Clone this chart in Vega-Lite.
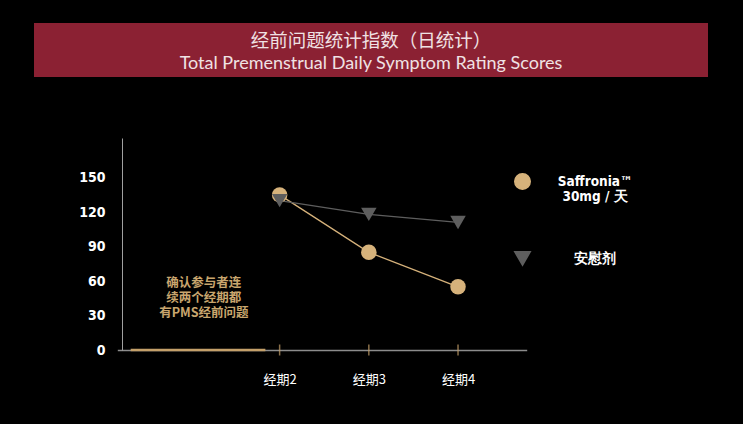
{
  "$schema": "https://vega.github.io/schema/vega-lite/v6.json",
  "background": "black",
  "padding": {"left": 34, "top": 23, "right": 35, "bottom": 38},
  "bounds": "flush",
  "spacing": 61,
  "config": {
    "view": {"stroke": null},
    "axis": {"grid": false}
  },
  "datasets": {
    "titles": [
      {"line": 1, "text": "经前问题统计指数（日统计）"},
      {"line": 2, "text": "Total Premenstrual Daily Symptom Rating Scores"}
    ],
    "scores": [
      {"period": 2, "group": "Saffronia™", "score": 135},
      {"period": 3, "group": "Saffronia™", "score": 85},
      {"period": 4, "group": "Saffronia™", "score": 55},
      {"period": 2, "group": "安慰剂", "score": 130},
      {"period": 3, "group": "安慰剂", "score": 118},
      {"period": 4, "group": "安慰剂", "score": 111}
    ],
    "phases": [
      {"phase": "筛选期", "start": 0.33, "end": 1.84, "note": "确认参与者连\n续两个经期都\n有PMS经前问题"}
    ]
  },
  "vconcat": [
    {
      "width": 674,
      "height": 54,
      "view": {"fill": "#8B2133", "stroke": null},
      "data": {"name": "titles"},
      "encoding": {
        "y": {"field": "line", "type": "ordinal", "axis": null, "scale": {"range": [18, 40.5], "padding": 0}},
        "text": {"field": "text"}
      },
      "layer": [
        {
          "transform": [{"filter": "datum.line == 1"}],
          "mark": {"type": "text", "font": "Noto Sans CJK SC", "fontSize": 18.5, "color": "#F0E2E4"}
        },
        {
          "transform": [{"filter": "datum.line == 2"}],
          "mark": {"type": "text", "font": "Lato", "fontSize": 18, "color": "#F0E2E4"}
        }
      ]
    },
    {
      "width": 674,
      "height": 212,
      "layer": [
        {
          "data": {"name": "phases"},
          "mark": {"type": "rule", "color": "#C4A06A", "strokeWidth": 2.5},
          "encoding": {
            "x": {
              "field": "start",
              "type": "quantitative",
              "scale": {"domain": [0.18, 4.77], "range": [83.3, 492.7], "nice": false, "zero": false},
              "axis": {
                "values": [2, 3, 4],
                "labelExpr": "'经期' + datum.value",
                "title": null,
                "domainColor": "#8C8C8C",
                "domainWidth": 1.5,
                "ticks": false,
                "tickSize": 0,
                "labelPadding": 23,
                "labelColor": "white",
                "labelFont": "Noto Sans CJK SC",
                "labelFontSize": 13
              }
            },
            "x2": {"field": "end"},
            "y": {
              "datum": 0,
              "type": "quantitative",
              "scale": {"domain": [0, 184.5], "nice": false},
              "axis": {
                "values": [0, 30, 60, 90, 120, 150],
                "title": null,
                "offset": -88,
                "domainColor": "#A0A0A0",
                "domainWidth": 1,
                "ticks": false,
                "tickSize": 0,
                "labelPadding": 17,
                "labelColor": "white",
                "labelFont": "DejaVu Sans Condensed",
                "labelFontSize": 14,
                "labelFontWeight": "bold"
              }
            }
          }
        },
        {
          "data": {"name": "phases"},
          "mark": {
            "type": "text",
            "lineBreak": "\n",
            "font": "Noto Sans CJK SC",
            "fontSize": 12.5,
            "fontWeight": "bold",
            "lineHeight": 15,
            "color": "#C9A66E"
          },
          "encoding": {
            "text": {"field": "note"},
            "x": {"datum": 1.15, "type": "quantitative"},
            "y": {"datum": 58, "type": "quantitative"}
          }
        },
        {
          "data": {"name": "scores"},
          "transform": [{"filter": "datum.group == 'Saffronia™'"}],
          "mark": {"type": "tick", "orient": "vertical", "size": 11, "thickness": 1.5, "color": "#C4A06A"},
          "encoding": {
            "x": {"field": "period", "type": "quantitative"},
            "y": {"datum": 0, "type": "quantitative"}
          }
        },
        {
          "data": {"name": "scores"},
          "mark": {"type": "line", "strokeWidth": 1.3},
          "encoding": {
            "x": {"field": "period", "type": "quantitative"},
            "y": {"field": "score", "type": "quantitative"},
            "color": {"field": "group", "type": "nominal"}
          }
        },
        {
          "data": {"name": "scores"},
          "mark": {"type": "point", "filled": true, "opacity": 1, "size": 240, "strokeWidth": 0},
          "encoding": {
            "x": {"field": "period", "type": "quantitative"},
            "y": {"field": "score", "type": "quantitative"},
            "color": {
              "field": "group",
              "type": "nominal",
              "scale": {"domain": ["Saffronia™", "安慰剂"], "range": ["#D6B27B", "#5E5E5E"]},
              "legend": {
                "title": null,
                "orient": "none",
                "legendX": 480,
                "legendY": 150,
                "symbolSize": 240,
                "labelExpr": "datum.label == 'Saffronia™' ? ['Saffronia™', '30mg / 天'] : datum.label",
                "labelColor": "white",
                "labelFont": "DejaVu Sans Condensed",
                "labelFontWeight": "bold",
                "labelFontSize": 13.5,
                "labelAlign": "center",
                "labelOffset": 64,
                "rowPadding": 44
              }
            },
            "shape": {
              "field": "group",
              "type": "nominal",
              "scale": {"domain": ["Saffronia™", "安慰剂"], "range": ["circle", "triangle-down"]}
            }
          }
        }
      ]
    }
  ]
}
